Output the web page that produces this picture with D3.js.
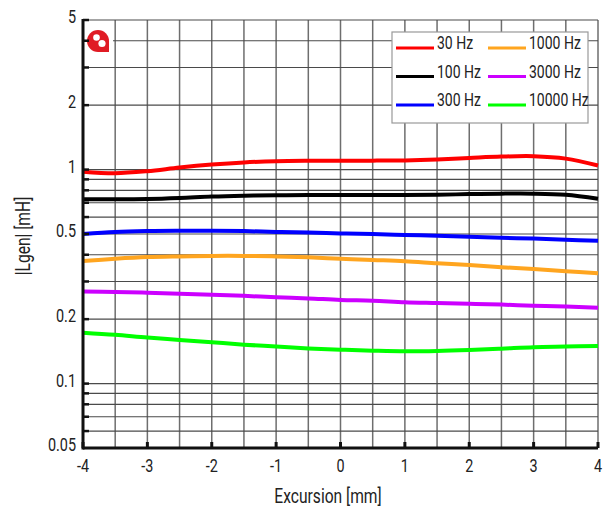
<!doctype html>
<meta charset="utf-8">
<script src="https://d3js.org/d3.v7.min.js"></script>
<style>
body{margin:0;background:#fff;}
text{font-family:"Roboto","Liberation Sans",sans-serif;fill:#222;}
</style>
<body>
</body>
<script>

// excursion in mm
var excursion = [-4,-3.5,-3,-2.5,-2,-1.5,-1,-0.5,0,0.5,1,1.5,2,2.5,3,3.5,4];
var seriesNames = ["30 Hz","100 Hz","300 Hz","1000 Hz","3000 Hz","10000 Hz"];
var seriesColors = ["#ff0000","#000000","#0000ff","#ffa51f","#cc00ff","#00ff00"];
// |Lgen| in mH
var hz30    = [0.978,0.962,0.983,1.022,1.055,1.080,1.095,1.100,1.101,1.101,1.104,1.115,1.133,1.150,1.155,1.125,1.045];
var hz100   = [0.727,0.726,0.728,0.736,0.748,0.755,0.759,0.760,0.760,0.760,0.761,0.763,0.768,0.772,0.772,0.762,0.730];
var hz300   = [0.500,0.511,0.516,0.518,0.518,0.516,0.511,0.508,0.503,0.500,0.495,0.491,0.486,0.480,0.476,0.470,0.465];
var hz1000  = [0.374,0.383,0.390,0.393,0.395,0.395,0.393,0.389,0.383,0.378,0.373,0.365,0.358,0.350,0.343,0.335,0.328];
var hz3000  = [0.269,0.268,0.266,0.263,0.260,0.257,0.253,0.250,0.246,0.244,0.240,0.238,0.236,0.234,0.231,0.229,0.226];
var hz10000 = [0.173,0.169,0.164,0.160,0.156,0.152,0.149,0.146,0.144,0.1425,0.1415,0.142,0.1435,0.1456,0.148,0.149,0.150];
var seriesValues = [hz30,hz100,hz300,hz1000,hz3000,hz10000];

var xTicks = [-4,-3,-2,-1,0,1,2,3,4];
var xGrid = [-3.5,-3,-2.5,-2,-1.5,-1,-0.5,0,0.5,1,1.5,2,2.5,3,3.5,4];
var yLabels = [5,2,1,0.5,0.2,0.1,0.05];
var yGrid = [5,4,3,2,1,0.9,0.8,0.7,0.6,0.5,0.4,0.3,0.2,0.1,0.09,0.08,0.07,0.06];

var svg = d3.select("body").append("svg").attr("width",605).attr("height",509);

var plotL = 83, plotR = 598, plotT = 20, plotB = 448;
var narrow = 0.8; // squeeze text, the original face is a condensed one

var x = d3.scaleLinear().domain([-4,4]).range([plotL,plotR]);
var y = d3.scaleLog().domain([0.05,5]).range([plotB,plotT]);

/*----------- grid -----------*/
svg.append("g").selectAll("line").data(xGrid).enter().append("line")
    .attr("x1",function(d){return x(d);}).attr("x2",function(d){return x(d);})
    .attr("y1",plotT).attr("y2",plotB)
    .style("stroke","#6e6e6e").style("stroke-width",1.5);

svg.append("g").selectAll("line").data(yGrid).enter().append("line")
    .attr("x1",plotL).attr("x2",plotR)
    .attr("y1",function(d){return y(d);}).attr("y2",function(d){return y(d);})
    .style("stroke","#4a4a4a").style("stroke-width",1.2);

/*----------- logo -----------*/
svg.append("rect").attr("x",plotL+2).attr("y",28).attr("width",28).attr("height",28).style("fill","#fff");
var logo = svg.append("g").attr("transform","translate(98,41)");
logo.append("path")
    .attr("d","M 11 11 L 0 11 A 11 11 0 1 1 11 0 Z")
    .style("fill","#e01b24");
logo.append("circle").attr("cx",-1.5).attr("cy",-3.5).attr("r",3.3).style("fill","#fff");
logo.append("circle").attr("cx",4).attr("cy",2.5).attr("r",3.6).style("fill","#fff");

/*----------- curves -----------*/
var line = d3.line()
    .x(function(d,i){return x(excursion[i]);})
    .y(function(d){return y(d);})
    .curve(d3.curveCatmullRom.alpha(0.5));

svg.append("g").selectAll("path").data(seriesValues).enter().append("path")
    .attr("d",line)
    .style("fill","none")
    .style("stroke",function(d,i){return seriesColors[i];})
    .style("stroke-width",4)
    .style("stroke-linejoin","round");

/*----------- axes -----------*/
svg.append("line").attr("x1",plotL).attr("x2",plotR).attr("y1",plotB).attr("y2",plotB)
    .style("stroke","#111").style("stroke-width",3);
svg.append("line").attr("x1",plotL).attr("x2",plotL).attr("y1",plotT-1).attr("y2",plotB+1.5)
    .style("stroke","#111").style("stroke-width",3);

svg.append("g").selectAll("line").data(xTicks).enter().append("line")
    .attr("x1",function(d){return x(d);}).attr("x2",function(d){return x(d);})
    .attr("y1",plotB).attr("y2",plotB-6)
    .style("stroke","#111").style("stroke-width",3);

svg.append("g").selectAll("line").data(yGrid).enter().append("line")
    .attr("x1",plotL).attr("x2",plotL+6)
    .attr("y1",function(d){return y(d);}).attr("y2",function(d){return y(d);})
    .style("stroke","#111").style("stroke-width",2.5);

svg.append("g").selectAll("text").data(xTicks).enter().append("text")
    .attr("transform",function(d){return "translate(" + x(d) + ",472) scale(" + narrow + ",1)";})
    .style("text-anchor","middle").style("font-size","18px")
    .text(function(d){return d;});

svg.append("g").selectAll("text").data(yLabels).enter().append("text")
    .attr("transform",function(d){return "translate(76," + (y(d) + 3) + ") scale(" + narrow + ",1)";})
    .style("text-anchor","end").style("font-size","18px")
    .text(function(d){return d;});

svg.append("text")
    .attr("transform","translate(328,503) scale(" + narrow + ",1)")
    .style("text-anchor","middle").style("font-size","19.5px")
    .text("Excursion [mm]");

svg.append("text")
    .attr("transform","translate(30,236) rotate(-90) scale(" + narrow + ",1)")
    .style("text-anchor","middle").style("font-size","19.5px")
    .text("|Lgen| [mH]");

/*----------- legend -----------*/
var legend = svg.append("g");
legend.append("rect").attr("x",392).attr("y",32).attr("width",196).attr("height",91)
    .style("fill","#fff").style("stroke","#999").style("stroke-width",1.2);

var item = legend.selectAll("g.item").data(seriesNames).enter().append("g")
    .attr("class","item")
    .attr("transform",function(d,i){
        return "translate(" + (i<3 ? 396 : 488) + "," + (48 + (i%3)*28.5) + ")";
    });
item.append("line").attr("x1",0).attr("x2",38).attr("y1",0).attr("y2",0)
    .style("stroke",function(d,i){return seriesColors[i];}).style("stroke-width",3);
item.append("text")
    .attr("transform","translate(41,1) scale(" + narrow + ",1)")
    .style("font-size","17.5px")
    .text(function(d){return d;});

</script>
